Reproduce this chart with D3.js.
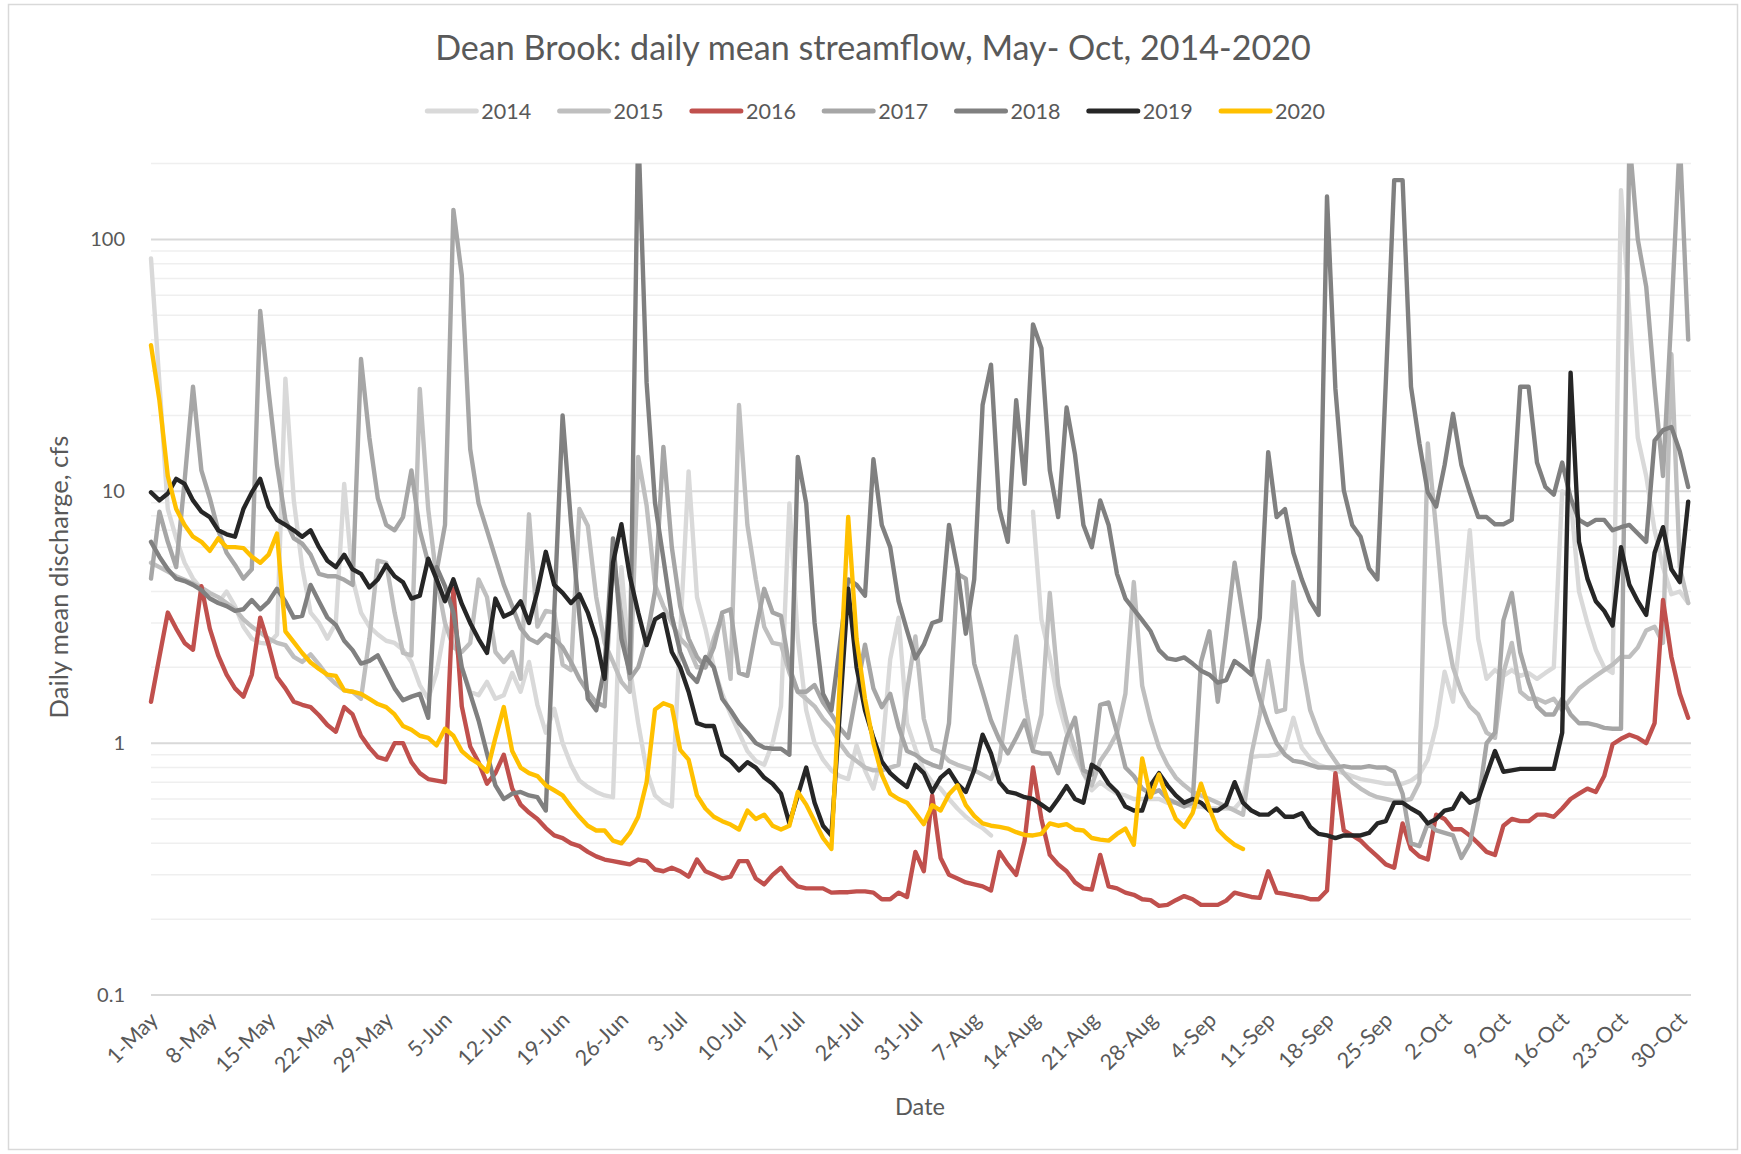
<!DOCTYPE html>
<html>
<head>
<meta charset="utf-8">
<script src="https://cdn.jsdelivr.net/npm/d3@7"></script>
<style>
  body { margin: 0; background: #ffffff; }
  text { font-family: Lato, "Open Sans", sans-serif; fill: #595959; }
</style>
</head>
<body>
<svg id="chart" width="1741" height="1154"></svg>
<script>
// daily mean discharge (cfs), one value per day from 1-May (index 0) to 31-Oct (index 183)
var q2014 = [
  84, 27, 8.5, 6.5, 5.2, 4.5, 4.1, 3.8, 3.6, 4.0,
  3.5, 2.9, 2.6, 2.5, 2.48, 2.7, 28, 9.2, 5.0, 3.3,
  3.0, 2.6, 3.0, 10.7, 4.5, 3.3, 2.9, 2.7, 2.55, 2.5,
  2.35, 2.1, 1.7, 1.5, 1.9, 2.9, 2.6, 2.0, 1.6, 1.55,
  1.75, 1.5, 1.55, 1.9, 1.6, 2.1, 1.42, 1.1, 1.37, 1.0,
  0.82, 0.71, 0.67, 0.64, 0.62, 0.61, 5.0, 2.0, 1.2, 0.78,
  0.62, 0.58, 0.56, 2.7, 12, 3.8, 2.85, 2.0, 1.57, 1.3,
  1.1, 0.93, 0.85, 0.82, 1.0, 1.4, 8.95, 2.6, 1.35, 1.0,
  0.86, 0.78, 0.74, 0.72, 0.98, 0.78, 0.66, 0.9, 2.15, 3.15,
  1.2, 0.95, 0.78, 0.7, 0.66, 0.6, 0.55, 0.51, 0.48, 0.46,
  0.43, null, null, null, null, 8.3, 3.1, 2.2, 1.45, 1.1,
  0.9, 0.76, 0.65, 0.7, 0.66, 0.63, 0.62, 0.6, 0.6, 0.6,
  0.6, 0.58, 0.58, 0.57, 0.56, 0.56, 0.55, 0.55, 0.55, 0.55,
  0.6, 0.88, 0.89, 0.89, 0.9, 0.95, 1.26, 0.96, 0.87, 0.82,
  0.8, 0.78, 0.76, 0.74, 0.72, 0.71, 0.7, 0.69, 0.69, 0.69,
  0.71, 0.75, 0.86, 1.17, 1.92, 1.46, 3.0, 7.0, 2.6, 1.8,
  1.95, 1.85, 1.95, 1.85, 1.9, 1.8, 1.9, 2.0, 10, 9.5,
  4.0, 3.0, 2.35, 2.0, 1.9, 157, 51, 16.3, 11.5, 7.0,
  5.0, 3.9, 4.0, 3.6
];
var q2015 = [
  5.2, 5.0, 4.8, 4.6, 4.45, 4.3, 4.15, 3.95, 3.8, 3.6,
  3.4, 3.1, 2.9, 2.75, 2.6, 2.5, 2.45, 2.2, 2.1, 2.25,
  2.05, 1.85, 1.72, 1.62, 1.6, 1.5, 2.6, 5.3, 5.2, 3.3,
  2.28, 2.23, 25.5, 8.5, 4.5, 3.0, 2.4, 2.3, 2.5, 4.47,
  3.8, 2.3, 2.1, 2.3, 1.8, 8.1, 2.9, 3.35, 3.3, 2.05,
  1.95, 8.5, 7.3, 3.8, 2.5, 2.1, 1.75, 1.6, 13.7, 8.8,
  4.25, 3.5, 3.0, 2.6, 2.4, 2.0, 2.0, 2.6, 3.2, 1.8,
  22, 7.35, 4.47, 2.9, 2.5, 2.46, 1.9, 1.6, 1.5, 1.4,
  1.25, 1.15, 1.0, 0.9, 0.85, 0.8, 0.78, 0.78, 0.8, 0.82,
  1.6, 2.65, 1.25, 0.95, 0.92, 0.85, 0.82, 0.8, 0.78, 0.75,
  0.72, 0.85, 1.5, 2.65, 1.5, 0.95, 1.3, 3.95, 1.7, 1.22,
  0.95, 0.76, 0.68, 0.85, 0.95, 1.1, 1.57, 4.36, 1.69, 1.23,
  0.96, 0.82, 0.73, 0.68, 0.64, 0.62, 0.6, 0.58, 0.56, 0.54,
  0.52, 0.9, 1.3, 2.12, 1.33, 1.36, 4.36, 2.1, 1.35, 1.1,
  0.95, 0.85, 0.76, 0.7, 0.66, 0.63, 0.61, 0.6, 0.59, 0.59,
  0.6, 0.7, 15.5, 7.0, 3.0, 2.0, 1.6, 1.4, 1.3, 1.1,
  1.05, 1.9, 2.5, 1.6, 1.5, 1.5, 1.45, 1.5, 1.35, 1.5,
  1.65, 1.75, 1.85, 1.95, 2.05, 2.2, 2.2, 2.4, 2.8, 2.9,
  2.5, 35, 5.0, 3.6
];
var q2016 = [
  1.46, 2.2, 3.3, 2.85, 2.5, 2.35, 4.2, 2.85, 2.23, 1.87,
  1.65, 1.53, 1.87, 3.15, 2.46, 1.83, 1.65, 1.46, 1.42, 1.39,
  1.29, 1.18, 1.11, 1.39, 1.3, 1.07, 0.96, 0.88, 0.86, 1.0,
  1.0, 0.84, 0.76, 0.72, 0.71, 0.7, 4.1, 1.4, 0.97, 0.84,
  0.69, 0.76, 0.9, 0.66, 0.57, 0.53, 0.5, 0.46, 0.43, 0.42,
  0.4, 0.39, 0.37, 0.355, 0.345, 0.34, 0.335, 0.33, 0.345, 0.34,
  0.315, 0.31, 0.32, 0.31, 0.295, 0.345, 0.31, 0.3, 0.29, 0.295,
  0.34, 0.34, 0.29, 0.275, 0.3, 0.32, 0.29, 0.27, 0.265, 0.265,
  0.265, 0.255, 0.256, 0.256, 0.258, 0.258, 0.255, 0.24, 0.24, 0.255,
  0.245, 0.37, 0.31, 0.62, 0.35, 0.3, 0.29, 0.28, 0.275, 0.27,
  0.26, 0.37, 0.33, 0.3, 0.41, 0.8, 0.5, 0.36, 0.33, 0.31,
  0.28, 0.265, 0.262, 0.36, 0.27, 0.265, 0.255, 0.25, 0.24, 0.238,
  0.226, 0.228, 0.238, 0.247, 0.24, 0.228, 0.228, 0.228, 0.237, 0.255,
  0.25, 0.245, 0.243, 0.31, 0.255, 0.252, 0.248, 0.245, 0.24, 0.24,
  0.26, 0.76, 0.45, 0.43, 0.41, 0.38, 0.355, 0.33, 0.32, 0.48,
  0.38, 0.355, 0.345, 0.52, 0.5, 0.455, 0.455, 0.43, 0.4, 0.37,
  0.36, 0.47, 0.5, 0.49, 0.49, 0.52, 0.52, 0.51, 0.55, 0.6,
  0.63, 0.66, 0.64, 0.74, 0.99, 1.04, 1.08, 1.05, 1.0, 1.2,
  3.7, 2.2, 1.57, 1.26
];
var q2017 = [
  4.5, 8.3, 6.3, 5.0, 11, 26, 12.1, 9.4, 7.0, 5.7,
  5.1, 4.5, 4.9, 52, 25, 12.7, 7.7, 6.5, 6.2, 5.6,
  4.7, 4.6, 4.6, 4.45, 4.25, 33.5, 16.3, 9.4, 7.35, 7.0,
  7.9, 12.1, 7.0, 5.2, 4.8, 7.35, 131, 72, 14.7, 8.95,
  7.0, 5.45, 4.25, 3.5, 2.86, 2.6, 2.5, 2.7, 2.6, 2.4,
  2.1, 1.8, 1.6, 1.45, 1.4, 5.5, 3.2, 1.8, 2.0, 2.6,
  4.0, 15, 6.0, 3.5, 2.6, 2.2, 2.0, 2.4, 3.3, 3.4,
  1.9, 1.85, 2.8, 4.1, 3.3, 3.2, 2.0, 1.6, 1.6, 1.7,
  1.45, 1.3, 1.15, 1.05, 1.6, 2.46, 1.65, 1.39, 1.57, 1.16,
  0.93, 0.9, 0.85, 0.82, 0.8, 1.2, 4.7, 4.5, 2.07, 1.6,
  1.23, 1.03, 0.91, 1.05, 1.23, 0.93, 0.91, 0.91, 0.76, 1.05,
  1.26, 0.78, 0.75, 1.42, 1.45, 1.1, 0.8, 0.74, 0.66, 0.63,
  0.65, 0.6, 0.58, 0.56, 0.58, 2.1, 2.78, 1.46, 2.7, 5.2,
  3.2, 2.0, 1.5, 1.2, 1.0, 0.9, 0.85, 0.84, 0.82, 0.8,
  0.8, 0.8, 0.81, 0.8, 0.8, 0.81, 0.8, 0.8, 0.77, 0.63,
  0.4, 0.39, 0.48, 0.45, 0.44, 0.43, 0.35, 0.4, 0.58, 1.0,
  1.1, 3.07, 3.95, 2.3, 1.75, 1.4, 1.3, 1.3, 1.5, 1.3,
  1.2, 1.2, 1.18, 1.15, 1.14, 1.14, 250, 100, 65, 26,
  11.5, 50, 250, 40
];
var q2018 = [
  6.3, 5.5, 4.9, 4.5, 4.4, 4.25, 4.05, 3.75, 3.6, 3.5,
  3.35, 3.4, 3.7, 3.4, 3.65, 4.1, 3.65, 3.15, 3.2, 4.25,
  3.65, 3.15, 2.95, 2.55, 2.34, 2.07, 2.12, 2.23, 1.92, 1.65,
  1.48, 1.53, 1.57, 1.26, 5.0, 4.2, 3.3, 2.0, 1.57, 1.23,
  0.91, 0.68, 0.6, 0.63, 0.64, 0.62, 0.61, 0.54, 3.3, 20,
  7.5, 3.2, 1.5, 1.35, 2.0, 6.5, 2.6, 1.9, 280, 27,
  9.0, 5.4, 3.2, 2.3, 1.9, 1.75, 2.2, 2.0, 1.5, 1.35,
  1.2, 1.1, 1.0, 0.96, 0.95, 0.95, 0.9, 13.7, 8.95, 3.0,
  1.57, 1.35, 2.45, 4.47, 4.25, 3.85, 13.4, 7.35, 6.0, 3.66,
  2.8, 2.17, 2.46, 3.0, 3.08, 7.35, 4.94, 2.72, 4.47, 22,
  31.8, 8.5, 6.3, 23, 10.7, 46, 37, 12.1, 7.9, 21.5,
  14, 7.35, 6.0, 9.2, 7.35, 4.7, 3.75, 3.4, 3.08, 2.78,
  2.34, 2.17, 2.14, 2.19, 2.07, 1.94, 1.87, 1.74, 1.78, 2.12,
  2.0, 1.87, 3.15, 14.3, 7.9, 8.5, 5.7, 4.47, 3.66, 3.23,
  148, 25.5, 10.1, 7.35, 6.6, 4.94, 4.47, 27, 172, 172,
  26, 15.5, 9.9, 8.7, 12.7, 20.3, 12.7, 9.9, 7.9, 7.9,
  7.4, 7.4, 7.7, 26, 26, 13, 10.4, 9.7, 13, 9.4,
  7.7, 7.35, 7.7, 7.7, 7.0, 7.2, 7.35, 6.8, 6.3, 15.9,
  17.5, 18, 14.4, 10.4
];
var q2019 = [
  9.9, 9.2, 9.8, 11.2, 10.7, 9.2, 8.3, 7.9, 7.0, 6.75,
  6.6, 8.5, 9.9, 11.2, 8.7, 7.7, 7.35, 7.0, 6.6, 7.0,
  6.0, 5.3, 5.0, 5.6, 4.9, 4.7, 4.15, 4.47, 5.1, 4.6,
  4.35, 3.75, 3.85, 5.4, 4.47, 3.66, 4.47, 3.57, 3.0, 2.59,
  2.28, 3.75, 3.18, 3.3, 3.66, 3.0, 4.0, 5.75, 4.25, 3.95,
  3.6, 3.9, 3.3, 2.6, 1.8, 5.2, 7.4, 4.6, 3.3, 2.45,
  3.1, 3.25, 2.3, 2.0, 1.6, 1.2, 1.17, 1.17, 0.9, 0.85,
  0.78, 0.84, 0.8, 0.73, 0.69, 0.63, 0.48, 0.62, 0.8, 0.58,
  0.47, 0.43, 1.33, 4.1, 2.0, 1.35, 1.05, 0.845, 0.76, 0.71,
  0.67, 0.82, 0.76, 0.64, 0.73, 0.78, 0.69, 0.64, 0.78, 1.08,
  0.91, 0.7, 0.64, 0.63, 0.61, 0.6, 0.57, 0.54, 0.6, 0.675,
  0.6, 0.58, 0.82, 0.78, 0.69, 0.64, 0.56, 0.54, 0.54, 0.68,
  0.76, 0.68, 0.62, 0.58, 0.6, 0.58, 0.54, 0.54, 0.57, 0.7,
  0.58, 0.54, 0.52, 0.52, 0.55, 0.51, 0.51, 0.527, 0.465, 0.436,
  0.43, 0.42, 0.43, 0.43, 0.43, 0.44, 0.48, 0.49, 0.58, 0.58,
  0.55, 0.527, 0.48, 0.5, 0.54, 0.55, 0.63, 0.58, 0.6, 0.75,
  0.93, 0.77, 0.78, 0.79, 0.79, 0.79, 0.79, 0.79, 1.1, 29.6,
  6.3, 4.5, 3.66, 3.35, 2.93, 6.0, 4.25, 3.66, 3.23, 5.7,
  7.2, 4.9, 4.36, 9.1
];
// 2020 record stops on 8-Sep
var q2020 = [
  38, 23, 11.5, 8.5, 7.35, 6.6, 6.3, 5.8, 6.5, 6.0,
  6.0, 5.95, 5.5, 5.2, 5.6, 6.8, 2.78, 2.52, 2.28, 2.09,
  1.97, 1.87, 1.85, 1.62, 1.6, 1.57, 1.5, 1.43, 1.39, 1.3,
  1.17, 1.13, 1.07, 1.05, 0.98, 1.14, 1.07, 0.93, 0.87, 0.83,
  0.77, 1.05, 1.39, 0.93, 0.8, 0.76, 0.74, 0.68, 0.65, 0.62,
  0.56, 0.51, 0.47, 0.45, 0.45, 0.41, 0.4, 0.44, 0.51, 0.7,
  1.36, 1.44, 1.4, 0.94, 0.86, 0.62, 0.55, 0.51, 0.49, 0.475,
  0.454, 0.54, 0.5, 0.52, 0.47, 0.454, 0.47, 0.64, 0.57, 0.49,
  0.42, 0.38, 1.74, 7.9, 2.59, 1.5, 1.0, 0.75, 0.63, 0.6,
  0.58, 0.527, 0.477, 0.567, 0.54, 0.627, 0.68, 0.567, 0.514, 0.48,
  0.47, 0.465, 0.458, 0.443, 0.432, 0.43, 0.436, 0.48, 0.47, 0.477,
  0.454, 0.45, 0.42, 0.414, 0.41, 0.436, 0.458, 0.395, 0.87, 0.61,
  0.75, 0.6, 0.5, 0.465, 0.527, 0.69, 0.55, 0.454, 0.42, 0.395,
  0.38
];

var years = ["2014", "2015", "2016", "2017", "2018", "2019", "2020"];
var colours = ["#d9d9d9", "#bfbfbf", "#c0504d", "#a6a6a6", "#808080", "#262626", "#ffc000"];
var series = [q2014, q2015, q2016, q2017, q2018, q2019, q2020];

// one label every 7 days starting at 1-May
var tickLabels = ["1-May", "8-May", "15-May", "22-May", "29-May", "5-Jun", "12-Jun", "19-Jun", "26-Jun",
  "3-Jul", "10-Jul", "17-Jul", "24-Jul", "31-Jul", "7-Aug", "14-Aug", "21-Aug", "28-Aug",
  "4-Sep", "11-Sep", "18-Sep", "25-Sep", "2-Oct", "9-Oct", "16-Oct", "23-Oct", "30-Oct"];
var yTicks = [0.1, 1, 10, 100];

var svg = d3.select("#chart");

var plotLeft = 151, plotRight = 1691, plotTop = 163.6, plotBottom = 995;

var x = d3.scaleLinear().domain([0, 183]).range([plotLeft, 1688.2]);
var y = d3.scaleLog().domain([0.1, 200]).range([plotBottom, plotTop]);

// fit a text element to a measured width
function fitWidth(sel, w) {
  var n = sel.node();
  var fs = parseFloat(sel.attr("font-size"));
  var cur = n.getComputedTextLength();
  if (cur > 0) sel.attr("font-size", (fs * w / cur).toFixed(2));
  return parseFloat(sel.attr("font-size"));
}

// chart area
svg.append("rect")
  .attr("x", 8.5).attr("y", 4.5)
  .attr("width", 1729).attr("height", 1145)
  .attr("fill", "#ffffff")
  .attr("stroke", "#d9d9d9")
  .attr("stroke-width", 1.5);

// gridlines
var minor = [], major = [];
[0.1, 1, 10, 100].forEach(function(dec) {
  for (var k = 1; k <= 9; k++) {
    var v = +(k * dec).toPrecision(3);
    if (v > 200) break;
    if (k === 1) major.push(v); else minor.push(v);
  }
});

svg.append("g").selectAll("line")
  .data(minor)
  .enter().append("line")
  .attr("x1", plotLeft).attr("x2", plotRight)
  .attr("y1", function(d) { return y(d); })
  .attr("y2", function(d) { return y(d); })
  .attr("stroke", "#efefef")
  .attr("stroke-width", 1.5);

svg.append("g").selectAll("line")
  .data(major)
  .enter().append("line")
  .attr("x1", plotLeft).attr("x2", plotRight)
  .attr("y1", function(d) { return y(d); })
  .attr("y2", function(d) { return y(d); })
  .attr("stroke", "#d9d9d9")
  .attr("stroke-width", 2);

// series
svg.append("clipPath").attr("id", "plotclip")
  .append("rect")
  .attr("x", plotLeft - 5).attr("y", plotTop)
  .attr("width", plotRight - plotLeft + 10).attr("height", plotBottom - plotTop);

var line = d3.line()
  .defined(function(d) { return d != null; })
  .x(function(d, i) { return x(i); })
  .y(function(d) { return y(d); });

var lines = svg.append("g").attr("clip-path", "url(#plotclip)");
series.forEach(function(s, i) {
  lines.append("path")
    .datum(s)
    .attr("fill", "none")
    .attr("stroke", colours[i])
    .attr("stroke-width", 4.4)
    .attr("stroke-linejoin", "round")
    .attr("stroke-linecap", "round")
    .attr("d", line);
});

// title
var title = svg.append("text")
  .attr("x", 873).attr("y", 48)
  .attr("dy", "0.35em")
  .attr("text-anchor", "middle")
  .attr("font-size", 30)
  .text("Dean Brook: daily mean streamflow, May- Oct, 2014-2020");
fitWidth(title, 876);

// legend
var legend = svg.append("g");
var legendSize = 21;
years.forEach(function(yr, i) {
  var sx = 425.3 + i * 132.3;
  legend.append("line")
    .attr("x1", sx + 2).attr("x2", sx + 51)
    .attr("y1", 111).attr("y2", 111)
    .attr("stroke", colours[i])
    .attr("stroke-width", 5)
    .attr("stroke-linecap", "round");
  var t = legend.append("text")
    .attr("x", sx + 56).attr("y", 111)
    .attr("dy", "0.35em")
    .attr("font-size", 21)
    .text(yr);
  legendSize = fitWidth(t, 50);
});

// y axis labels
svg.append("g").selectAll("text")
  .data(yTicks)
  .enter().append("text")
  .attr("x", 125)
  .attr("y", function(d) { return y(d); })
  .attr("dy", "0.35em")
  .attr("text-anchor", "end")
  .attr("font-size", legendSize * 0.93)
  .text(function(d) { return d3.format("~g")(d); });

// x axis labels
svg.append("g").selectAll("text")
  .data(tickLabels)
  .enter().append("text")
  .attr("transform", function(d, i) {
    return "translate(" + (x(i * 7) + 3) + ",1016) rotate(-45)";
  })
  .attr("dy", "0.35em")
  .attr("text-anchor", "end")
  .attr("font-size", legendSize)
  .text(function(d) { return d; });

// axis titles
var xt = svg.append("text")
  .attr("x", 920).attr("y", 1107)
  .attr("dy", "0.35em")
  .attr("text-anchor", "middle")
  .attr("font-size", 24)
  .text("Date");
fitWidth(xt, 50);

var yt = svg.append("text")
  .attr("transform", "translate(59,577) rotate(-90)")
  .attr("dy", "0.35em")
  .attr("text-anchor", "middle")
  .attr("font-size", 24)
  .text("Daily mean discharge, cfs");
fitWidth(yt, 283);
</script>
</body>
</html>
